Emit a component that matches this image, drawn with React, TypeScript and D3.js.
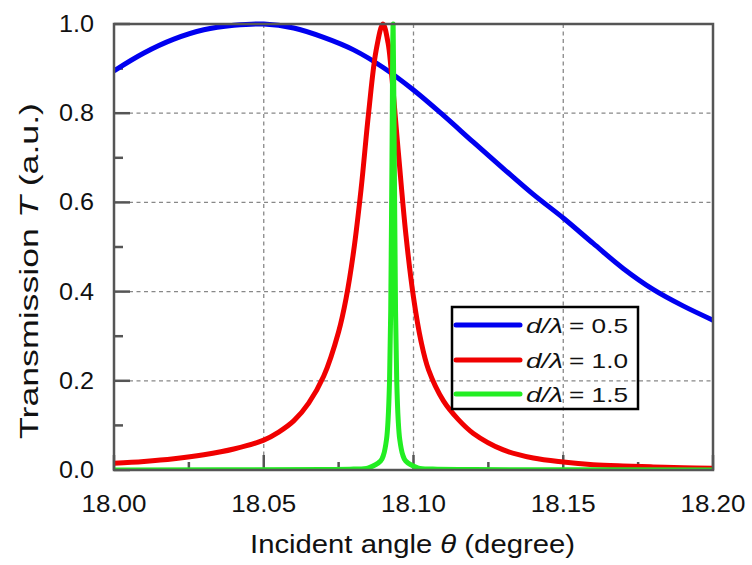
import React from 'react';
import * as d3 from 'd3';

const xTicks = [18.0, 18.05, 18.1, 18.15, 18.2];
const xTickLabels = ['18.00', '18.05', '18.10', '18.15', '18.20'];
const xMinorTicks = [18.025, 18.075, 18.125, 18.175];
const yTicks = [0, 0.2, 0.4, 0.6, 0.8, 1.0];
const yTickLabels = ['0.0', '0.2', '0.4', '0.6', '0.8', '1.0'];
const yMinorTicks = [0.1, 0.3, 0.5, 0.7, 0.9];

const blueAngle = [18.0, 18.01, 18.02, 18.03, 18.04, 18.05, 18.06, 18.07, 18.08, 18.09, 18.1, 18.11, 18.12, 18.13, 18.14, 18.15, 18.16, 18.17, 18.18, 18.19, 18.2];
const blueT = [0.895, 0.935, 0.966, 0.987, 0.997, 1.0, 0.991, 0.97, 0.942, 0.902, 0.852, 0.795, 0.735, 0.676, 0.618, 0.565, 0.508, 0.452, 0.405, 0.368, 0.336];

const redAngle = [18.0, 18.01, 18.02, 18.03, 18.04, 18.05, 18.055, 18.06, 18.065, 18.07, 18.075, 18.0775, 18.08, 18.0825, 18.085, 18.0875, 18.0898, 18.0915, 18.0925, 18.095, 18.0975, 18.1, 18.1025, 18.105, 18.11, 18.115, 18.12, 18.13, 18.14, 18.15, 18.16, 18.17, 18.18, 18.19, 18.2];
const redT = [0.015, 0.019, 0.025, 0.034, 0.047, 0.067, 0.085, 0.11, 0.15, 0.21, 0.31, 0.385, 0.49, 0.63, 0.8, 0.94, 1.0, 0.958, 0.9, 0.708, 0.525, 0.387, 0.289, 0.225, 0.155, 0.113, 0.082, 0.045, 0.027, 0.018, 0.012, 0.009, 0.007, 0.005, 0.004];

const greenAngle = [18.0, 18.07, 18.08, 18.085, 18.089, 18.09, 18.091, 18.0915, 18.092, 18.0924, 18.0928, 18.0932, 18.0936, 18.094, 18.0944, 18.0949, 18.0954, 18.0964, 18.0974, 18.1014, 18.1064, 18.12, 18.2];
const greenT = [0.0, 0.001, 0.002, 0.005, 0.02, 0.034, 0.069, 0.111, 0.2, 0.36, 0.69, 1.0, 0.69, 0.36, 0.2, 0.111, 0.069, 0.034, 0.02, 0.005, 0.002, 0.001, 0.0];

const seriesNames = ['0.5', '1.0', '1.5'];
const seriesColors = ['#0000f0', '#f00000', '#22ee22'];

const W = 752;
const H = 565;
const left = 114;
const right = 713;
const top = 24;
const bottom = 470;

export default function App() {
  const x = d3.scaleLinear().domain([18.0, 18.2]).range([left, right]);
  const y = d3.scaleLinear().domain([0, 1]).range([bottom, top]);
  const line = d3
    .line<[number, number]>()
    .x((d) => x(d[0]))
    .y((d) => y(d[1]))
    .curve(d3.curveCatmullRom.alpha(0.5));
  const series = [
    blueAngle.map((a, i) => [a, blueT[i]] as [number, number]),
    redAngle.map((a, i) => [a, redT[i]] as [number, number]),
    greenAngle.map((a, i) => [a, greenT[i]] as [number, number]),
  ];
  const font = '"Liberation Sans", Arial, sans-serif';
  const axisColor = '#555';
  const legX = 452;
  const legY = 307;
  const legRowY = [325, 360, 394];

  return (
    <svg
      width={W}
      height={H}
      style={{ position: 'absolute', left: 0, top: 0, background: '#fff' }}
      fontFamily={font}
    >
      <defs>
        <clipPath id="plotclip">
          <rect x={left} y={top - 3} width={right - left} height={bottom - top + 3} />
        </clipPath>
      </defs>
      {/* grid */}
      <g stroke="#888" strokeWidth={1.3} strokeDasharray="4,3.5">
        {xTicks.slice(1, -1).map((t) => (
          <line key={'gx' + t} x1={x(t)} x2={x(t)} y1={top} y2={bottom} />
        ))}
        {yTicks.slice(1, -1).map((t) => (
          <line key={'gy' + t} x1={left} x2={right} y1={y(t)} y2={y(t)} />
        ))}
      </g>
      {/* ticks */}
      <g stroke={axisColor} strokeWidth={2.5}>
        {xTicks.map((t) => (
          <line key={'tx' + t} x1={x(t)} x2={x(t)} y1={bottom} y2={bottom - 15} />
        ))}
        {xMinorTicks.map((t) => (
          <line key={'mx' + t} x1={x(t)} x2={x(t)} y1={bottom} y2={bottom - 8} />
        ))}
        {yTicks.map((t) => (
          <line key={'ty' + t} x1={left} x2={left + 16} y1={y(t)} y2={y(t)} />
        ))}
        {yMinorTicks.map((t) => (
          <line key={'my' + t} x1={left} x2={left + 9} y1={y(t)} y2={y(t)} />
        ))}
      </g>
      {/* curves */}
      <g clipPath="url(#plotclip)" fill="none" strokeWidth={5} strokeLinejoin="round">
        {series.map((s, i) => (
          <path key={'s' + i} d={line(s) || ''} stroke={seriesColors[i]} />
        ))}
      </g>
      {/* frame */}
      <rect x={left} y={top} width={right - left} height={bottom - top} fill="none" stroke={axisColor} strokeWidth={2.5} />
      {/* tick labels */}
      <g fontSize={23} fill="#111">
        {xTicks.map((t, i) => (
          <text key={'lx' + t} x={x(t)} y={512} textAnchor="middle" textLength={65} lengthAdjust="spacingAndGlyphs">
            {xTickLabels[i]}
          </text>
        ))}
        {yTicks.map((t, i) => (
          <text key={'ly' + t} x={94} y={y(t) + 8} textAnchor="end" textLength={35} lengthAdjust="spacingAndGlyphs">
            {yTickLabels[i]}
          </text>
        ))}
      </g>
      {/* axis titles */}
      <text x={412.5} y={553} textAnchor="middle" fontSize={25} fill="#111" textLength={325} lengthAdjust="spacingAndGlyphs">
        Incident angle <tspan fontStyle="italic">θ</tspan> (degree)
      </text>
      <text
        transform={`translate(38, 271) rotate(-90)`}
        textAnchor="middle"
        fontSize={25}
        fill="#111"
        textLength={336}
        lengthAdjust="spacingAndGlyphs"
      >
        Transmission <tspan fontStyle="italic">T</tspan> (a.u.)
      </text>
      {/* legend */}
      <rect x={legX} y={legY} width={186} height={102} fill="none" stroke="#000" strokeWidth={2.5} />
      {seriesNames.map((n, i) => (
        <g key={'leg' + i} fontSize={21} fill="#111">
          <line x1={456} x2={520} y1={legRowY[i]} y2={legRowY[i]} stroke={seriesColors[i]} strokeWidth={5} strokeLinecap="round" />
          <text x={526} y={legRowY[i] + 8} fontStyle="italic" textLength={37} lengthAdjust="spacingAndGlyphs">
            d/λ
          </text>
          <text x={569} y={legRowY[i] + 8} textLength={59} lengthAdjust="spacingAndGlyphs">
            = {n}
          </text>
        </g>
      ))}
    </svg>
  );
}
